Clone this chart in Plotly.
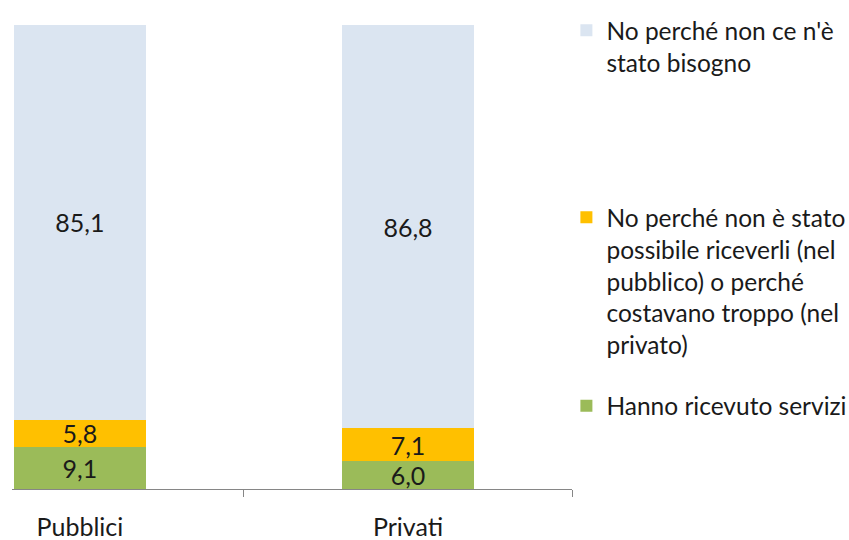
import plotly.graph_objects as go

categories = ["Pubblici", "Privati"]
x_pos = [0, 1]
ricevuto = [9.1, 6.0]
non_possibile = [5.8, 7.1]
non_bisogno = [85.1, 86.8]

names = [
    "Hanno ricevuto servizi",
    "No perché non è stato<br>possibile riceverli (nel<br>pubblico) o perché<br>costavano troppo (nel<br>privato)",
    "No perché non ce n'è<br>stato bisogno",
]
colors = ["#9BBB59", "#FFC000", "#DBE5F1"]
series = [ricevuto, non_possibile, non_bisogno]
legends = ["legend3", "legend2", "legend"]

FONT = "Lato"
fig = go.Figure()
for vals, name, col, lg in zip(series, names, colors, legends):
    fig.add_trace(go.Bar(
        x=x_pos, y=vals, name=name, marker=dict(color=col, line=dict(width=0)),
        width=0.4,
        text=[f"{v:.1f}".replace(".", ",") for v in vals],
        textposition="inside", insidetextanchor="middle", constraintext="none",
        textfont=dict(family=FONT, size=25, color="#1a1a1a"),
        legend=lg,
    ))

leg_common = dict(x=0.99, xanchor="left", yanchor="top", bgcolor="rgba(0,0,0,0)",
                  valign="top",
                  font=dict(family=FONT, size=24.5, color="#1a1a1a"), borderwidth=0)
fig.update_layout(
    barmode="stack",
    width=849, height=540,
    margin=dict(l=12, r=277, t=25, b=51, autoexpand=False),
    plot_bgcolor="white", paper_bgcolor="white",
    showlegend=True,
    uniformtext=dict(mode=False),
    legend=dict(y=1.037, **leg_common),
    legend2=dict(y=0.634, **leg_common),
    legend3=dict(y=0.228, **leg_common),
    xaxis=dict(
        range=[-0.207, 1.5], tickvals=x_pos, ticktext=categories,
        ticks="", showline=True, linecolor="#868686", linewidth=1,
        showgrid=False, zeroline=False, automargin=False,
        tickfont=dict(family=FONT, size=25, color="#1a1a1a"),
        ticklabelstandoff=16,
        minor=dict(tickmode="array", tickvals=[0.5, 1.5], ticks="outside",
                   ticklen=7, tickcolor="#868686", tickwidth=1, showgrid=False),
    ),
    yaxis=dict(range=[0, 100], visible=False, showgrid=False, automargin=False),
)
fig.write_html("out.html")
